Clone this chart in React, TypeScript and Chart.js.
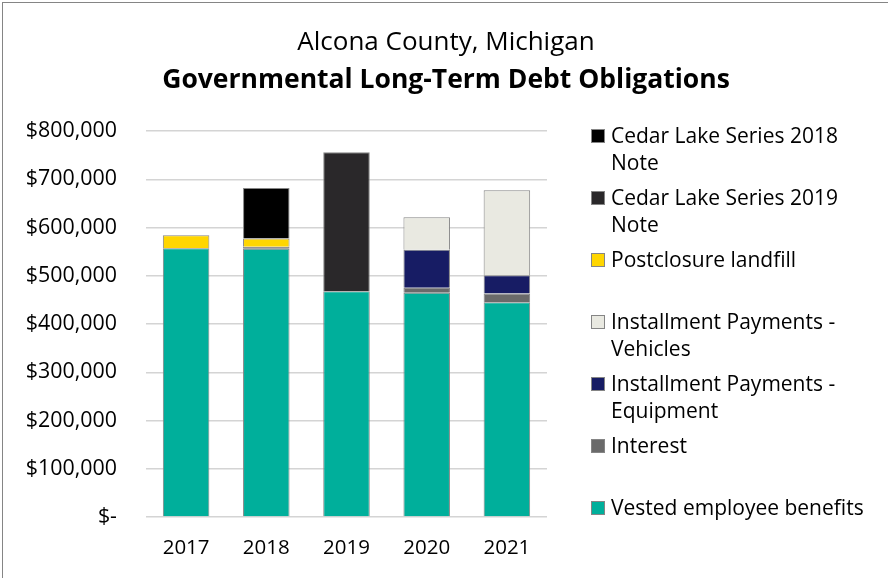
import React, { useEffect, useRef } from "react";
import { Chart, registerables } from "chart.js";

Chart.register(...registerables);

const titleLine = "Alcona County, Michigan";
const subtitleLine = "Governmental Long-Term Debt Obligations";

const years = ["2017", "2018", "2019", "2020", "2021"];

const vestedBenefits = [557000, 556000, 468000, 465000, 445000];
const interest = [null, 4000, null, 10000, 18000];
const installmentEquipment = [null, null, null, 79000, 38000];
const installmentVehicles = [null, null, null, 67000, 176000];
const postclosureLandfill = [27000, 17000, null, null, null];
const cedarLake2019 = [null, null, 288000, null, null];
const cedarLake2018 = [null, 105000, null, null, null];

const yTickValues = [0, 100000, 200000, 300000, 400000, 500000, 600000, 700000, 800000];

// legend text, top to bottom, with the line breaks shown in the reference
const legendCedar2018 = ["Cedar Lake Series 2018", "Note"];
const legendCedar2019 = ["Cedar Lake Series 2019", "Note"];
const legendPostclosure = ["Postclosure landfill"];
const legendVehicles = ["Installment Payments -", "Vehicles"];
const legendEquipment = ["Installment Payments -", "Equipment"];
const legendInterest = ["Interest"];
const legendVested = ["Vested employee benefits"];

const FONT = "'Open Sans', sans-serif";
const BORDER = "#858585";

function fmtMoney(v: number): string {
  if (v === 0) return "$-";
  return "$" + v.toLocaleString("en-US");
}

export default function App() {
  const ref = useRef<HTMLCanvasElement | null>(null);

  useEffect(() => {
    if (!ref.current) return;

    const datasets = [
      { label: "Vested employee benefits", data: vestedBenefits, backgroundColor: "#00AF9B", legend: legendVested },
      { label: "Interest", data: interest, backgroundColor: "#6A6A6A", legend: legendInterest },
      { label: "Installment Payments - Equipment", data: installmentEquipment, backgroundColor: "#171C64", legend: legendEquipment },
      { label: "Installment Payments - Vehicles", data: installmentVehicles, backgroundColor: "#E9E9E1", legend: legendVehicles },
      { label: "Postclosure landfill", data: postclosureLandfill, backgroundColor: "#FFD600", legend: legendPostclosure },
      { label: "Cedar Lake Series 2019 Note", data: cedarLake2019, backgroundColor: "#2A282A", legend: legendCedar2019 },
      { label: "Cedar Lake Series 2018 Note", data: cedarLake2018, backgroundColor: "#000000", legend: legendCedar2018 },
    ];

    const decor = {
      id: "decor",
      beforeDraw(chart: any) {
        const ctx = chart.ctx;
        ctx.save();
        ctx.fillStyle = "#ffffff";
        ctx.fillRect(0, 0, chart.width, chart.height);
        ctx.strokeStyle = BORDER;
        ctx.lineWidth = 1;
        ctx.strokeRect(2.5, 2.5, chart.width + 20, chart.height + 20);
        ctx.restore();
      },
      afterDraw(chart: any) {
        const ctx = chart.ctx;
        ctx.save();
        // titles
        ctx.fillStyle = "#000000";
        ctx.textAlign = "center";
        ctx.textBaseline = "alphabetic";
        ctx.font = `26px ${FONT}`;
        ctx.fillText(titleLine, 446, 50);
        ctx.font = `bold 26.5px ${FONT}`;
        ctx.fillText(subtitleLine, 446, 88);

        // legend (reverse of stacking order)
        const items = chart.data.datasets.slice().reverse();
        ctx.font = `21px ${FONT}`;
        ctx.textAlign = "left";
        ctx.textBaseline = "middle";
        items.forEach((ds: any, i: number) => {
          const cy = 136 + i * 62;
          ctx.fillStyle = ds.backgroundColor;
          ctx.fillRect(591, cy - 7, 14, 14);
          ctx.strokeStyle = BORDER;
          ctx.lineWidth = 1;
          ctx.strokeRect(591.5, cy - 6.5, 13, 13);
          ctx.fillStyle = "#000000";
          (ds.legend as string[]).forEach((line: string, j: number) => {
            ctx.fillText(line, 611, cy + 1 + j * 27);
          });
        });
        ctx.restore();
      },
    };

    const chart = new Chart(ref.current, {
      type: "bar",
      data: {
        labels: years,
        datasets: datasets.map((d) => ({
          ...d,
          borderColor: BORDER,
          borderWidth: 1,
          categoryPercentage: 1,
          barPercentage: 0.58,
        })) as any,
      },
      options: {
        animation: false,
        responsive: true,
        maintainAspectRatio: false,
        layout: { padding: { top: 131, right: 341, left: 0, bottom: 0 } },
        plugins: {
          legend: { display: false },
          title: { display: false },
          tooltip: { enabled: false },
        },
        scales: {
          x: {
            stacked: true,
            grid: { display: false, drawTicks: false },
            border: { display: false },
            ticks: { color: "#000000", font: { family: FONT, size: 20.5 }, padding: 19 },
            afterFit: (s: any) => {
              s.height = 61;
            },
          },
          y: {
            stacked: true,
            min: 0,
            max: 800000,
            afterBuildTicks: (s: any) => {
              s.ticks = yTickValues.map((v) => ({ value: v }));
            },
            grid: { color: "#D4D4D4", lineWidth: 1.5, drawTicks: false },
            border: { display: false },
            ticks: {
              color: "#000000",
              font: { family: FONT, size: 21.4 },
              padding: 29,
              callback: (v: any) => fmtMoney(Number(v)),
            },
            afterFit: (s: any) => {
              s.width = 146;
            },
          },
        },
      },
      plugins: [decor],
    });

    return () => chart.destroy();
  }, []);

  return (
    <div style={{ position: "absolute", left: 0, top: 0, width: 888, height: 578 }}>
      <canvas ref={ref} />
    </div>
  );
}
